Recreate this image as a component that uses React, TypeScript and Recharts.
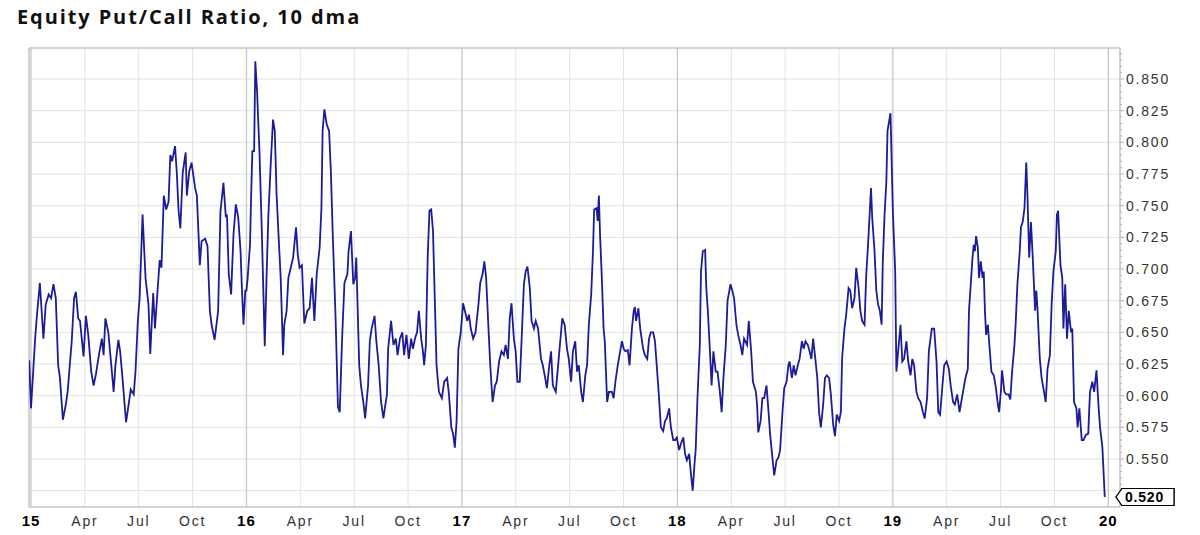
import { LineChart, Line, XAxis, YAxis, CartesianGrid, ReferenceLine } from "recharts";

// [day of year, 10-day average of the equity put/call ratio]
const ratio2015: [number, number][] = [
  [-3, 0.628], [0, 0.59], [7, 0.645], [10, 0.663], [15, 0.689], [18, 0.667], [21, 0.645], [25, 0.672], [30, 0.68], [34, 0.677],
  [38, 0.688], [42, 0.677], [46, 0.624], [49, 0.614], [54, 0.581], [59, 0.593], [62, 0.603], [69, 0.643], [73, 0.677], [76, 0.682],
  [80, 0.661], [83, 0.659], [89, 0.631], [93, 0.663], [97, 0.648], [102, 0.619], [106, 0.608], [110, 0.617], [115, 0.632], [120, 0.645],
  [123, 0.632], [126, 0.661], [131, 0.65], [136, 0.624], [140, 0.603], [143, 0.624], [148, 0.644], [151, 0.635], [155, 0.614], [161, 0.579],
  [166, 0.595], [169, 0.605], [174, 0.601], [177, 0.619], [181, 0.659], [184, 0.677], [189, 0.743], [194, 0.693], [199, 0.672], [202, 0.633],
  [207, 0.681], [210, 0.653], [215, 0.687], [218, 0.707], [221, 0.701], [225, 0.758], [229, 0.747], [233, 0.753], [236, 0.79], [239, 0.785],
  [244, 0.797], [247, 0.776], [250, 0.746], [253, 0.732], [257, 0.776], [262, 0.792], [264, 0.758], [268, 0.777], [272, 0.784], [278, 0.764],
  [281, 0.758], [286, 0.703], [289, 0.722], [295, 0.724], [299, 0.718], [303, 0.667], [306, 0.656], [311, 0.644], [315, 0.659], [317, 0.667],
  [321, 0.746], [326, 0.768], [330, 0.741], [332, 0.743], [335, 0.696], [339, 0.68], [343, 0.727], [347, 0.751], [351, 0.741], [355, 0.714],
  [357, 0.688], [360, 0.656], [363, 0.683],
];

const ratio2016: [number, number][] = [
  [0, 0.683], [2, 0.693], [6, 0.719], [8, 0.759], [10, 0.793], [13, 0.793], [15, 0.864], [18, 0.84], [22, 0.793], [26, 0.73],
  [31, 0.639], [34, 0.693], [37, 0.741], [41, 0.782], [45, 0.818], [48, 0.809], [51, 0.759], [54, 0.73], [58, 0.693], [62, 0.632],
  [64, 0.656], [68, 0.667], [71, 0.693], [76, 0.703], [79, 0.709], [84, 0.733], [87, 0.711], [90, 0.701], [94, 0.703], [98, 0.657],
  [103, 0.667], [107, 0.669], [111, 0.693], [115, 0.659], [119, 0.696], [124, 0.717], [127, 0.748], [129, 0.809], [132, 0.826], [136, 0.814],
  [140, 0.809], [143, 0.777], [146, 0.73], [151, 0.661], [155, 0.591], [158, 0.587], [162, 0.645], [166, 0.689], [171, 0.696], [173, 0.714],
  [177, 0.73], [181, 0.688], [184, 0.693], [186, 0.709], [191, 0.624], [194, 0.608], [198, 0.595], [201, 0.582], [206, 0.608], [209, 0.643],
  [212, 0.653], [217, 0.663], [220, 0.643], [224, 0.624], [228, 0.595], [232, 0.582], [235, 0.592], [238, 0.601], [240, 0.637], [245, 0.659],
  [249, 0.64], [253, 0.645], [256, 0.632], [260, 0.645], [264, 0.65], [267, 0.632], [271, 0.648], [275, 0.629], [279, 0.645], [282, 0.637],
  [286, 0.646], [289, 0.65], [292, 0.667], [296, 0.645], [299, 0.635], [301, 0.624], [304, 0.64], [307, 0.709], [310, 0.746], [313, 0.747],
  [316, 0.73], [319, 0.677], [322, 0.624], [326, 0.603], [331, 0.598], [335, 0.611], [340, 0.614], [343, 0.601], [347, 0.575], [350, 0.57],
  [353, 0.559], [356, 0.58], [359, 0.637], [363, 0.65],
];

const ratio2017: [number, number][] = [
  [2, 0.673], [5, 0.667], [9, 0.659], [12, 0.664], [15, 0.653], [19, 0.645], [23, 0.65], [28, 0.672], [31, 0.689], [35, 0.696],
  [38, 0.706], [41, 0.693], [45, 0.653], [48, 0.624], [52, 0.595], [56, 0.608], [59, 0.611], [63, 0.627], [67, 0.635], [71, 0.632],
  [74, 0.64], [78, 0.629], [81, 0.661], [84, 0.673], [88, 0.645], [91, 0.635], [94, 0.611], [98, 0.611], [101, 0.643], [105, 0.688],
  [108, 0.698], [111, 0.702], [115, 0.685], [118, 0.659], [122, 0.653], [125, 0.659], [129, 0.653], [134, 0.629], [137, 0.624], [141, 0.614],
  [144, 0.606], [148, 0.624], [151, 0.635], [154, 0.608], [159, 0.603], [162, 0.619], [166, 0.64], [170, 0.661], [174, 0.656], [178, 0.637],
  [181, 0.629], [185, 0.611], [188, 0.635], [192, 0.643], [195, 0.619], [198, 0.624], [202, 0.603], [205, 0.595], [209, 0.616], [212, 0.624],
  [215, 0.656], [219, 0.68], [222, 0.714], [224, 0.747], [228, 0.748], [230, 0.738], [232, 0.758], [234, 0.727], [237, 0.693], [240, 0.653],
  [242, 0.643], [246, 0.595], [249, 0.603], [254, 0.603], [257, 0.598], [260, 0.611], [264, 0.624], [267, 0.632], [271, 0.643], [274, 0.637],
  [277, 0.635], [281, 0.636], [284, 0.624], [288, 0.653], [291, 0.667], [293, 0.67], [295, 0.659], [299, 0.669], [302, 0.653], [307, 0.637],
  [310, 0.632], [314, 0.629], [317, 0.645], [320, 0.65], [324, 0.65], [327, 0.643], [330, 0.624], [334, 0.598], [337, 0.575], [341, 0.572],
  [344, 0.58], [347, 0.582], [351, 0.59], [354, 0.575], [358, 0.565], [361, 0.565], [364, 0.567],
];

const ratio2018: [number, number][] = [
  [3, 0.557], [6, 0.562], [10, 0.567], [13, 0.554], [16, 0.549], [20, 0.554], [23, 0.538], [26, 0.525], [29, 0.546], [31, 0.557],
  [34, 0.598], [38, 0.64], [40, 0.698], [43, 0.714], [47, 0.715], [49, 0.685], [52, 0.664], [56, 0.627], [58, 0.608], [61, 0.635],
  [65, 0.619], [68, 0.619], [72, 0.603], [75, 0.587], [78, 0.614], [82, 0.64], [85, 0.675], [90, 0.688], [93, 0.683], [96, 0.677],
  [100, 0.656], [103, 0.648], [107, 0.64], [110, 0.632], [113, 0.645], [118, 0.64], [121, 0.659], [125, 0.635], [128, 0.611], [133, 0.603],
  [135, 0.593], [137, 0.571], [141, 0.58], [144, 0.598], [147, 0.598], [151, 0.608], [154, 0.59], [157, 0.57], [161, 0.551], [164, 0.537],
  [168, 0.549], [171, 0.551], [174, 0.557], [178, 0.587], [181, 0.606], [185, 0.611], [188, 0.624], [190, 0.627], [194, 0.614], [197, 0.624],
  [200, 0.616], [204, 0.624], [207, 0.629], [211, 0.643], [214, 0.637], [217, 0.643], [221, 0.64], [224, 0.635], [227, 0.629], [230, 0.645],
  [233, 0.632], [237, 0.614], [240, 0.587], [243, 0.575], [247, 0.593], [250, 0.614], [253, 0.616], [257, 0.614], [260, 0.601], [264, 0.577],
  [267, 0.568], [270, 0.585], [274, 0.58], [277, 0.587], [279, 0.629], [283, 0.653], [286, 0.664], [290, 0.685], [293, 0.683], [296, 0.669],
  [300, 0.677], [303, 0.701], [307, 0.685], [310, 0.667], [313, 0.659], [317, 0.656], [320, 0.696], [323, 0.719], [326, 0.746], [328, 0.764],
  [330, 0.741], [334, 0.714], [337, 0.683], [340, 0.672], [343, 0.667], [346, 0.656], [348, 0.706], [351, 0.743], [354, 0.769], [356, 0.809],
  [361, 0.823], [363, 0.785],
];

const ratio2019: [number, number][] = [
  [0, 0.746], [4, 0.698], [6, 0.619], [9, 0.635], [13, 0.656], [16, 0.627], [19, 0.629], [23, 0.643], [26, 0.627], [30, 0.616],
  [33, 0.629], [36, 0.624], [40, 0.603], [43, 0.598], [47, 0.595], [51, 0.587], [54, 0.582], [58, 0.598], [61, 0.635], [66, 0.653],
  [70, 0.653], [74, 0.627], [77, 0.587], [80, 0.585], [84, 0.608], [87, 0.624], [91, 0.627], [95, 0.621], [98, 0.608], [102, 0.595],
  [105, 0.593], [109, 0.601], [113, 0.587], [117, 0.598], [120, 0.606], [123, 0.614], [127, 0.621], [129, 0.667], [132, 0.688], [135, 0.709],
  [137, 0.719], [139, 0.714], [141, 0.726], [144, 0.717], [146, 0.693], [149, 0.706], [152, 0.693], [154, 0.698], [156, 0.667], [158, 0.648],
  [161, 0.656], [164, 0.637], [167, 0.619], [171, 0.616], [174, 0.608], [178, 0.593], [180, 0.587], [183, 0.603], [185, 0.62], [189, 0.603],
  [192, 0.601], [196, 0.601], [199, 0.597], [202, 0.619], [206, 0.64], [208, 0.656], [211, 0.688], [215, 0.714], [217, 0.733], [220, 0.737],
  [223, 0.748], [226, 0.784], [228, 0.759], [231, 0.709], [234, 0.737], [237, 0.709], [241, 0.667], [243, 0.683], [245, 0.669], [249, 0.629],
  [252, 0.614], [255, 0.606], [259, 0.595], [262, 0.621], [266, 0.632], [269, 0.672], [272, 0.698], [276, 0.714], [278, 0.743], [280, 0.746],
  [284, 0.703], [287, 0.693], [289, 0.653], [292, 0.688], [295, 0.645], [298, 0.667], [302, 0.65], [304, 0.653], [307, 0.595], [311, 0.59],
  [313, 0.575], [316, 0.59], [320, 0.565], [323, 0.565], [327, 0.569], [331, 0.57], [334, 0.603], [338, 0.611], [341, 0.603], [345, 0.62],
  [348, 0.595], [351, 0.575], [355, 0.559], [359, 0.52],
];

const years = [2015, 2016, 2017, 2018, 2019, 2020];
const quarterLabels = ["", "Apr", "Jul", "Oct"];
const yLabelTicks = [0.55, 0.575, 0.6, 0.625, 0.65, 0.675, 0.7, 0.725, 0.75, 0.775, 0.8, 0.825, 0.85];
const yGridTicks = [0.525, ...yLabelTicks];
const lastValue = 0.52;

const xDomain = [2014.9907, 2020.0543];
const yDomain = [0.5121, 0.8745];

const series = [ratio2015, ratio2016, ratio2017, ratio2018, ratio2019];
const data = series.flatMap((rows, i) => rows.map(([day, value]) => ({ t: years[i] + day / 365, value })));

const xTicks = years.flatMap((y) => (y === 2020 ? [y] : [y, y + 0.25, y + 0.5, y + 0.75]));
const quarterLines = xTicks.filter((t) => !Number.isInteger(t));

// right axis: small ticks every 0.005, labels every 0.025, plus the last-value tag
const minorTicks: number[] = [];
for (let i = 103; i <= 174; i++) minorTicks.push(i / 200);
const yTicks = [...minorTicks, lastValue];

const axisFont = "'Liberation Sans', Arial, sans-serif";

function XTick({ x, y, payload }: any) {
  const v: number = payload.value;
  const yr = Math.floor(v + 1e-6);
  const q = Math.round((v - yr) * 4);
  if (q === 0) {
    return (
      <text x={x} y={y + 19} textAnchor="middle" fontFamily={axisFont} fontSize={15} fontWeight="bold" letterSpacing={1} fill="#000">
        {String(yr).slice(2)}
      </text>
    );
  }
  return (
    <text x={x} y={y + 19} textAnchor="middle" fontFamily={axisFont} fontSize={14} letterSpacing={1.8} fill="#333">
      {quarterLabels[q]}
    </text>
  );
}

function YTick({ x, y, payload }: any) {
  const v: number = payload.value;
  if (Math.abs(v - lastValue) < 1e-6) {
    return (
      <g>
        <polygon
          points={`${x - 4},${y} ${x + 2},${y - 8.5} ${x + 54},${y - 8.5} ${x + 54},${y + 8.5} ${x + 2},${y + 8.5}`}
          fill="#fff"
          stroke="#000"
          strokeWidth={1.2}
        />
        <text x={x + 5} y={y + 5} fontFamily={axisFont} fontSize={14} fontWeight="bold" letterSpacing={0.8} fill="#000">
          {v.toFixed(3)}
        </text>
      </g>
    );
  }
  const label = yLabelTicks.some((t) => Math.abs(t - v) < 1e-6);
  const major = label || Math.abs(v - 0.525) < 1e-6;
  return (
    <g>
      <line x1={x} x2={x + (major ? 4 : 2)} y1={y} y2={y} stroke="#b0b0b0" />
      {label && (
        <text x={x + 6} y={y + 5} fontFamily={axisFont} fontSize={14} letterSpacing={1.8} fill="#333">
          {v.toFixed(3)}
        </text>
      )}
    </g>
  );
}

export default function App() {
  return (
    <div style={{ position: "absolute", left: 0, top: 0, width: 1200, height: 535, background: "#fff" }}>
      <div
        style={{
          position: "absolute",
          left: 17,
          top: 4,
          fontFamily: "'Open Sans', Lato, sans-serif",
          fontWeight: 700,
          fontSize: 20,
          letterSpacing: 1.9,
          lineHeight: "26px",
          color: "#111",
          zIndex: 1,
        }}
      >
        Equity Put/Call Ratio, 10 dma
      </div>
      <LineChart width={1200} height={535} data={data} margin={{ top: 48, right: 0, bottom: 0, left: 29 }}>
        <CartesianGrid horizontalValues={yGridTicks} verticalValues={quarterLines} stroke="#e2e2e2" strokeWidth={1} />
        {years.map((y) => (
          <ReferenceLine key={y} x={y} stroke="#c8c8c8" strokeWidth={1.3} />
        ))}
        <ReferenceLine x={xDomain[0]} stroke="#c4c4c4" strokeWidth={1.5} />
        <ReferenceLine y={yDomain[1]} stroke="#c4c4c4" strokeWidth={1.5} />
        <XAxis
          dataKey="t"
          type="number"
          domain={xDomain}
          ticks={xTicks}
          interval={0}
          allowDataOverflow
          height={28}
          tickSize={0}
          tickMargin={0}
          tickLine={false}
          axisLine={{ stroke: "#c4c4c4", strokeWidth: 1.5 }}
          tick={<XTick />}
        />
        <YAxis
          orientation="right"
          type="number"
          domain={yDomain}
          ticks={yTicks}
          interval={0}
          allowDataOverflow
          width={80}
          tickSize={0}
          tickMargin={0}
          tickLine={false}
          axisLine={{ stroke: "#c4c4c4", strokeWidth: 1.5 }}
          tick={<YTick />}
        />
        <Line
          type="linear"
          dataKey="value"
          stroke="#1c1c98"
          strokeWidth={1.8}
          dot={false}
          isAnimationActive={false}
        />
      </LineChart>
    </div>
  );
}
